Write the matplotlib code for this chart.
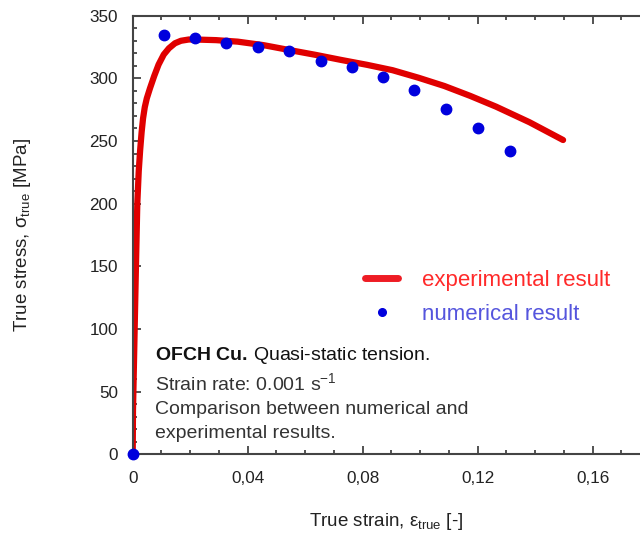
import matplotlib
matplotlib.use("Agg")
import matplotlib.pyplot as plt
from matplotlib.ticker import MultipleLocator, FuncFormatter
from matplotlib.lines import Line2D

# ---- data ----
exp_strain = [0, 0.0001, 0.0006, 0.0011, 0.0016, 0.0021, 0.0026, 0.0031, 0.0036,
              0.0042, 0.0049, 0.0060, 0.0075, 0.0090, 0.0108, 0.0126, 0.0147,
              0.0168, 0.0195, 0.0216, 0.0290, 0.0365, 0.0455, 0.0545, 0.0635,
              0.0725, 0.0815, 0.0904, 0.0994, 0.1084, 0.1174, 0.1264, 0.1380,
              0.1497]
exp_stress = [0, 35, 91, 147, 200, 226, 243, 257, 268,
              277, 284, 292, 302, 311, 319, 324, 328,
              330, 331, 331, 330.5, 329.3, 326.5, 322.6, 318.8,
              314.7, 310.8, 306.5, 300.5, 293.9, 286, 277.4, 265,
              250.8]

num_strain = [0, 0.0108, 0.0216, 0.0323, 0.0437, 0.0544, 0.0655, 0.0764,
              0.0869, 0.0980, 0.1090, 0.1202, 0.1312]
num_stress = [0, 334.6, 332.0, 328.5, 325.3, 321.8, 313.9, 309.1,
              301.1, 291.0, 275.3, 260.6, 242.3]

x_ticks = [0, 0.04, 0.08, 0.12, 0.16]
y_ticks = [0, 50, 100, 150, 200, 250, 300, 350]

legend_labels = ["experimental result", "numerical result"]
note_title = r"$\mathbf{OFCH\ Cu.\,}$Quasi-static tension."
note_lines = [r"Strain rate: 0.001 s$^{\mathregular{-1}}$",
              "Comparison between numerical and",
              "experimental results."]

# ---- style ----
plt.rcParams['font.family'] = ['Liberation Sans', 'DejaVu Sans']
plt.rcParams['mathtext.fontset'] = 'custom'
plt.rcParams['mathtext.rm'] = 'Liberation Sans'
plt.rcParams['mathtext.it'] = 'Liberation Sans:italic'
plt.rcParams['mathtext.bf'] = 'Liberation Sans:bold'
plt.rcParams['mathtext.sf'] = 'Liberation Sans'

txt_col = '#222222'
spine_col = '#444444'

fig = plt.figure(figsize=(6.4, 5.38), dpi=100)
left = 132.7 / 640
bottom = (538 - 454.3) / 538
top = (538 - 15.7) / 538
ax = fig.add_axes([left, bottom, 1 - left, top - bottom])

ax.plot(exp_strain, exp_stress, color='#e00000', lw=4.5, solid_capstyle='round',
        solid_joinstyle='round', zorder=2)
ax.plot(num_strain, num_stress, 'o', color='#0000dd', ms=7.5, mec='#0000dd',
        zorder=3, clip_on=False)

ax.set_xlim(0, (640 - 132.7) / 2875.0)
ax.set_ylim(0, 350)

ax.set_xticks(x_ticks)
ax.set_yticks(y_ticks)
ax.xaxis.set_minor_locator(MultipleLocator(0.01))
ax.yaxis.set_minor_locator(MultipleLocator(10))
ax.xaxis.set_major_formatter(FuncFormatter(
    lambda v, p: '0' if abs(v) < 1e-9 else ('%.2f' % v).replace('.', ',')))

for s in ['left', 'bottom', 'top']:
    ax.spines[s].set_color(spine_col)
    ax.spines[s].set_linewidth(1.5)
ax.spines['right'].set_visible(False)

ax.tick_params(axis='x', which='both', direction='in', top=True, bottom=True,
               color=spine_col, width=1.3)
ax.tick_params(axis='y', which='both', direction='in', left=True, right=False,
               color=spine_col, width=1.3)
ax.tick_params(which='major', length=6)
ax.tick_params(which='minor', length=3)
ax.tick_params(axis='x', which='major', pad=12, labelsize=12.3, labelcolor=txt_col)
ax.tick_params(axis='y', which='major', pad=10.5, labelsize=12.3, labelcolor=txt_col)

ax.set_xlabel(r"True strain, $\mathregular{ε_{true}}$ [-]", fontsize=13.5,
              color=txt_col, labelpad=18)
ax.set_ylabel(r"True stress, $\mathregular{σ_{true}}$ [MPa]", fontsize=13.5,
              color=txt_col, labelpad=41)

# legend
handles = [Line2D([], [], color='#ee1c24', lw=5, solid_capstyle='round'),
           Line2D([], [], ls='none', marker='o', color='#0000dd', ms=5.5)]
leg = ax.legend(handles, legend_labels, loc='upper left',
                bbox_to_anchor=(0.458, 0.421), frameon=False, fontsize=16,
                handlelength=1.5, handletextpad=1.05, labelspacing=0.6,
                borderpad=0, borderaxespad=0, labelcolor=['#ff2a2a', '#5555dd'])

# annotation (baselines in pixels from the reference)
xa = (155 - 132.7) / 507.3
ax.text(xa, (454.3 - 360) / 438.6, note_title, transform=ax.transAxes,
        fontsize=14, color='#111111', va='baseline', ha='left')
for i, line in enumerate(note_lines):
    yb = [390, 414, 438][i]
    ax.text(xa, (454.3 - yb) / 438.6, line, transform=ax.transAxes,
            fontsize=14, color='#333333', va='baseline', ha='left')

fig.savefig('out.png', dpi=100)
